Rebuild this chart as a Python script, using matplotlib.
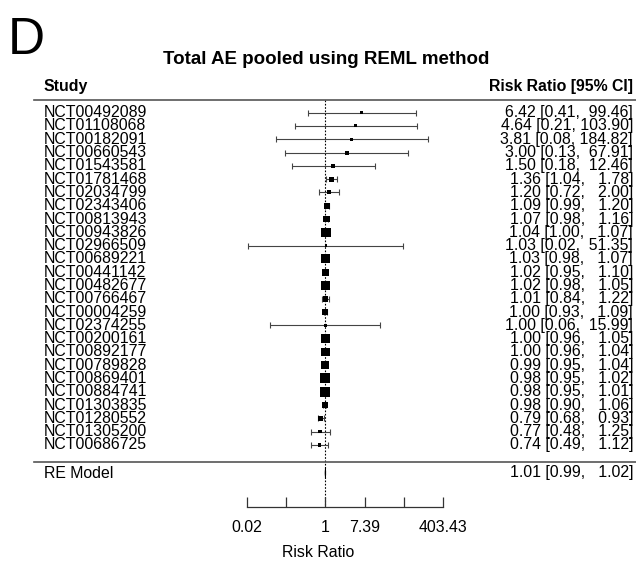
import numpy as np
import matplotlib
matplotlib.use("Agg")
import matplotlib.pyplot as plt

# ---------------- data ----------------
studies = ["NCT00492089", "NCT01108068", "NCT00182091", "NCT00660543", "NCT01543581",
           "NCT01781468", "NCT02034799", "NCT02343406", "NCT00813943", "NCT00943826",
           "NCT02966509", "NCT00689221", "NCT00441142", "NCT00482677", "NCT00766467",
           "NCT00004259", "NCT02374255", "NCT00200161", "NCT00892177", "NCT00789828",
           "NCT00869401", "NCT00884741", "NCT01303835", "NCT01280552", "NCT01305200",
           "NCT00686725"]
rr = [6.42, 4.64, 3.81, 3.00, 1.50, 1.36, 1.20, 1.09, 1.07, 1.04, 1.03, 1.03, 1.02,
      1.02, 1.01, 1.00, 1.00, 1.00, 1.00, 0.99, 0.98, 0.98, 0.98, 0.79, 0.77, 0.74]
ci_low = [0.41, 0.21, 0.08, 0.13, 0.18, 1.04, 0.72, 0.99, 0.98, 1.00, 0.02, 0.98, 0.95,
          0.98, 0.84, 0.93, 0.06, 0.96, 0.96, 0.95, 0.95, 0.95, 0.90, 0.68, 0.48, 0.49]
ci_high = [99.46, 103.90, 184.82, 67.91, 12.46, 1.78, 2.00, 1.20, 1.16, 1.07, 51.35, 1.07,
           1.10, 1.05, 1.22, 1.09, 15.99, 1.05, 1.04, 1.04, 1.02, 1.01, 1.06, 0.93, 1.25, 1.12]
# relative study weights
rel_weight = [3, 3, 3, 4, 4, 5, 4, 6, 6.5, 9.5, 2.5, 9, 7, 9, 5.5, 6, 2.5, 8.5, 8.5,
              8.5, 10, 9.5, 5.5, 5, 3.5, 3.5]
pooled_label = "RE Model"
pooled = (1.01, 0.99, 1.02)

tick_log = [-4, -2, 0, 2, 4, 6]
tick_labels = ["0.02", "", "1", "7.39", "", "403.43"]

title = "Total AE pooled using REML method"
panel = "D"
col_left = "Study"
col_right = "Risk Ratio [95% CI]"
xlabel = "Risk Ratio"

# ---------------- layout ----------------
W, H = 636, 562
X0 = 325.3          # pixel of log(RR)=0
PXU = 19.65         # pixels per log unit
AX_BOTTOM_PX = 507  # axis line
ROW0 = 112.7
ROWSTEP = 13.29
FS = 11.4
FONT = "Liberation Sans"
plt.rcParams["font.family"] = [FONT, "DejaVu Sans"]


def px2x(px):
    return (px - X0) / PXU


fig = plt.figure(figsize=(W / 100, H / 100), dpi=100)
ax = fig.add_axes([0, (H - AX_BOTTOM_PX) / H, 1, AX_BOTTOM_PX / H])
ax.set_xlim(px2x(0), px2x(W))
ax.set_ylim(AX_BOTTOM_PX, 0)

for s in ["top", "right", "left"]:
    ax.spines[s].set_visible(False)
ax.spines["bottom"].set_bounds(tick_log[0], tick_log[-1])
ax.spines["bottom"].set_linewidth(0.9)
ax.spines["bottom"].set_color("#333333")
ax.set_yticks([])
ax.set_xticks(tick_log)
ax.set_xticklabels(tick_labels, fontsize=FS)
ax.tick_params(axis="x", direction="in", length=7.2, width=0.9, color="#333333", pad=9.5)
ax.set_xlabel(xlabel, fontsize=FS, labelpad=7)

rows = ROW0 + np.arange(len(studies)) * ROWSTEP
le = np.log(rr)
ll = np.log(ci_low)
lh = np.log(ci_high)

# reference line
ax.plot([0, 0], [99.5, AX_BOTTOM_PX], ls=(0, (1.5, 1.5)), color="black", lw=0.8, zorder=1)

# CIs
ax.errorbar(le, rows, xerr=[le - ll, lh - le], fmt="none", ecolor="#444444",
            elinewidth=0.8, capsize=2, capthick=0.8, zorder=2)
sizes = (np.array(rel_weight) * 0.72) ** 2
ax.scatter(le, rows, marker="s", s=sizes, color="black", linewidths=0, zorder=3)

# separators
ax.plot([px2x(34), px2x(W)], [99.5, 99.5], color="#555555", lw=1.2, clip_on=False)
ax.plot([px2x(34), px2x(W)], [461.5, 461.5], color="#555555", lw=1.2, clip_on=False)

# texts
xl = px2x(44)
xr = px2x(633)
ax.text(xl, 86, col_left, fontsize=FS, fontweight="bold", va="center", ha="left")
ax.text(xr, 86, col_right, fontsize=FS, fontweight="bold", va="center", ha="right")
for y, name, e, l, h in zip(rows, studies, rr, ci_low, ci_high):
    ax.text(xl, y, name, fontsize=FS, va="center", ha="left")
    ax.text(xr, y, f"{e:.2f} [{l:.2f}, {h:>6.2f}]", fontsize=FS, va="center", ha="right")

# pooled
ypool = 473
pe, pl, ph = np.log(pooled)
ax.fill([pl, pe, ph, pe], [ypool, ypool - 6, ypool, ypool + 6], color="black", lw=0.6,
        edgecolor="black", zorder=3)
ax.text(xl, ypool, pooled_label, fontsize=FS, va="center", ha="left")
ax.text(xr, ypool, f"{pooled[0]:.2f} [{pooled[1]:.2f}, {pooled[2]:>6.2f}]", fontsize=FS,
        va="center", ha="right")

fig.text(326 / W, 1 - 60 / H, title, fontsize=13.5, fontweight="bold", ha="center", va="center")
fig.text(8 / W, 1 - 41 / H, panel, fontsize=37, ha="left", va="center")

fig.savefig("out.png", dpi=100)
